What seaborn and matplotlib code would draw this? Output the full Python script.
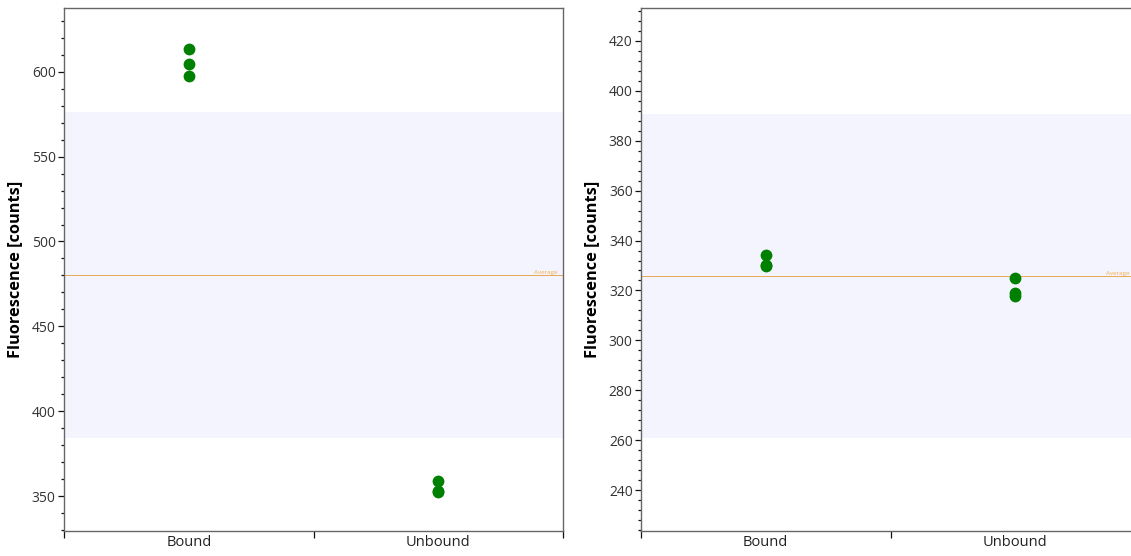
import numpy as np
import pandas as pd
import matplotlib
matplotlib.use("Agg")
import matplotlib.pyplot as plt
import seaborn as sns
from matplotlib.ticker import MultipleLocator, FixedLocator

sns.set_theme(style="white")
plt.rcParams['font.family'] = ['Open Sans', 'DejaVu Sans']

categories = ["Bound", "Unbound"]

# Panel 1 values
p1_bound = [613.6, 604.7, 597.6]
p1_unbound = [359.2, 353.0, 352.4]
p1_band = (384.0, 576.0)
p1_ylim = (329.5, 637.5)

# Panel 2 values
p2_bound = [334.2, 330.2, 329.8]
p2_unbound = [324.8, 319.0, 317.6]
p2_band = (260.8, 390.8)
p2_ylim = (223.6, 433.2)

ylabel = "Fluorescence [counts]"

fig = plt.figure(figsize=(11.31, 5.56), dpi=100)
ax1 = fig.add_axes([64/1131, 25/556, 499/1131, 523/556])
ax2 = fig.add_axes([641/1131, 25/556, 499/1131, 523/556])

panels = [
    (ax1, p1_bound, p1_unbound, p1_band, p1_ylim, 50, 10, 0.988),
    (ax2, p2_bound, p2_unbound, p2_band, p2_ylim, 20, 4, (1129 - 641) / 499),
]

for ax, b, u, band, ylim, major, minor, txt_x in panels:
    df = pd.DataFrame({
        "cat": [categories[0]] * len(b) + [categories[1]] * len(u),
        "val": b + u,
    })
    ax.axhspan(band[0], band[1], color="#F4F4FE", zorder=0, lw=0)
    avg = df["val"].mean()
    ax.axhline(avg, color="#E8A040", lw=0.7, alpha=0.9, zorder=1)
    ax.text(txt_x, avg, "Average", transform=ax.get_yaxis_transform(),
            ha="right", va="bottom", fontsize=4.5, color="#F5B050")
    sns.stripplot(data=df, x="cat", y="val", order=categories, jitter=False,
                  color="#008000", size=8.5, ax=ax, zorder=3)
    ax.set_xlim(-0.5, 1.5)
    ax.set_ylim(*ylim)
    ax.yaxis.set_major_locator(MultipleLocator(major))
    ax.yaxis.set_minor_locator(MultipleLocator(minor))
    ax.xaxis.set_minor_locator(FixedLocator([-0.5, 0.5, 1.5]))
    ax.tick_params(axis="x", which="major", length=0, labelsize=10.5,
                   labelcolor="#222222", pad=3, bottom=True)
    ax.tick_params(axis="x", which="minor", length=5, width=0.9, color="#111111",
                   direction="out", bottom=True)
    ax.tick_params(axis="y", which="major", length=4, width=0.9, color="#111111",
                   labelsize=10, labelcolor="#333333", left=True, pad=2)
    ax.tick_params(axis="y", which="minor", length=2.5, width=0.9, color="#111111",
                   left=True)
    ax.set_xlabel("")
    ax.set_ylabel(ylabel, fontsize=11.8, fontweight="bold", color="black", labelpad=6)
    for s in ax.spines.values():
        s.set_color("#666666")
        s.set_linewidth(1.0)
        s.set_visible(True)

fig.savefig("out.png", dpi=100)
